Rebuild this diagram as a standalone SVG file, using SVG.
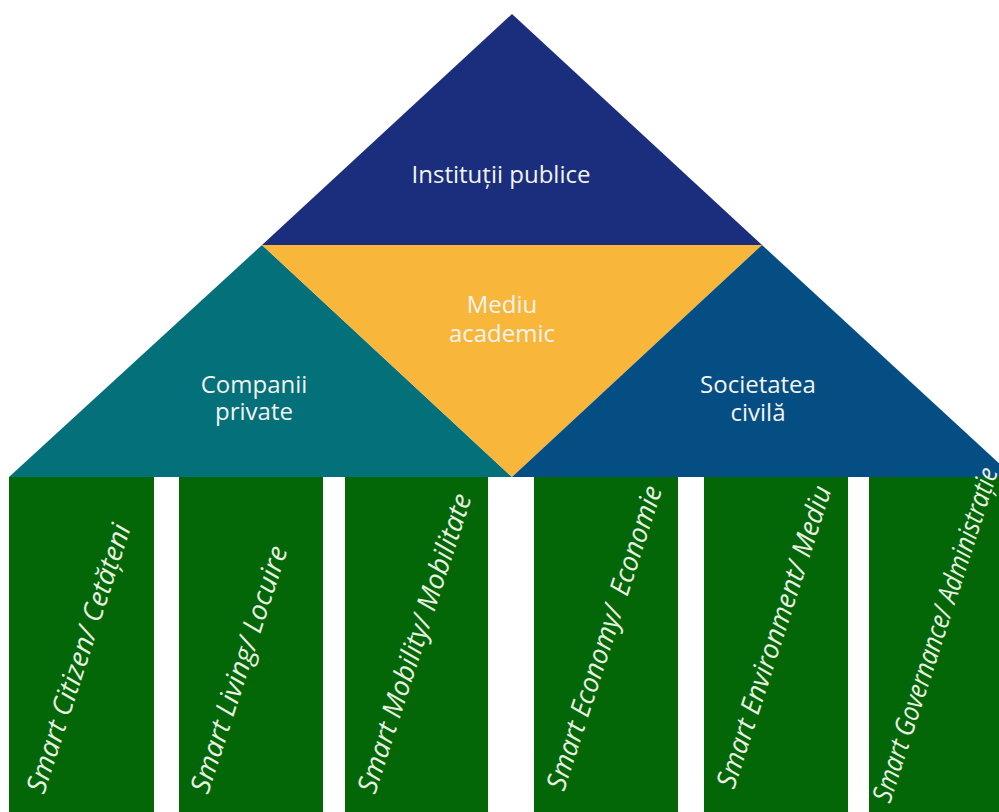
<svg xmlns="http://www.w3.org/2000/svg" width="999" height="812" viewBox="0 0 999 812">
<style>
.lbl{font-family:"Open Sans","Liberation Sans",sans-serif;font-size:24px;fill:#F2F4F0;text-anchor:middle}
.col{fill:#036607}
.pl{font-family:"Open Sans","Liberation Sans",sans-serif;font-size:27.5px;font-style:italic;fill:#E9F1E2}
</style>
<rect width="999" height="812" fill="#FFFFFF"/>
<g id="institutii-publice">
<polygon points="512,14 762,245 262,245" fill="#1B2E7E"/>
<text class="lbl" x="501" y="183">Instituții publice</text>
</g>
<g id="companii-private">
<polygon points="262,245 512,477 9,477" fill="#047079"/>
<text class="lbl" x="254" y="393">Companii</text>
<text class="lbl" x="254" y="420">private</text>
</g>
<g id="mediu-academic">
<polygon points="262,245 762,245 512,477" fill="#F8B63B"/>
<text class="lbl" x="502" y="313">Mediu</text>
<text class="lbl" x="502" y="342">academic</text>
</g>
<g id="societatea-civila">
<polygon points="762,245 1014,477 512,477" fill="#044E84"/>
<text class="lbl" x="758" y="393">Societatea</text>
<text class="lbl" x="758" y="421">civilă</text>
</g>
<g id="pillar-citizen">
<rect class="col" x="9" y="477" width="145" height="335"/>
<text class="pl" x="44" y="795" transform="rotate(-72 44 795)" textLength="281" lengthAdjust="spacingAndGlyphs">Smart Citizen/ Cetățeni</text>
</g>
<g id="pillar-living">
<rect class="col" x="179" y="477" width="144" height="335"/>
<text class="pl" x="208" y="795" transform="rotate(-72 208 795)" textLength="258" lengthAdjust="spacingAndGlyphs">Smart Living/ Locuire</text>
</g>
<g id="pillar-mobility">
<rect class="col" x="345" y="477" width="143" height="335"/>
<text class="pl" x="375" y="795" transform="rotate(-72 375 795)" textLength="313" lengthAdjust="spacingAndGlyphs">Smart Mobility/ Mobilitate</text>
</g>
<g id="pillar-economy">
<rect class="col" x="534" y="477" width="144" height="335"/>
<text class="pl" x="564" y="792" transform="rotate(-72 564 792)" textLength="318" lengthAdjust="spacingAndGlyphs">Smart Economy/ <tspan dx="6">Economie</tspan></text>
</g>
<g id="pillar-environment">
<rect class="col" x="704" y="477" width="144" height="335"/>
<text class="pl" x="734" y="790" transform="rotate(-72 734 790)" textLength="316" lengthAdjust="spacingAndGlyphs">Smart Environment/ Mediu</text>
</g>
<g id="pillar-governance">
<rect class="col" x="869" y="477" width="145" height="335"/>
<text class="pl" x="890" y="804" transform="rotate(-72 890 804)" textLength="350" lengthAdjust="spacingAndGlyphs">Smart Governance/ Administrație</text>
</g>
<g id="connectors"/>
</svg>
